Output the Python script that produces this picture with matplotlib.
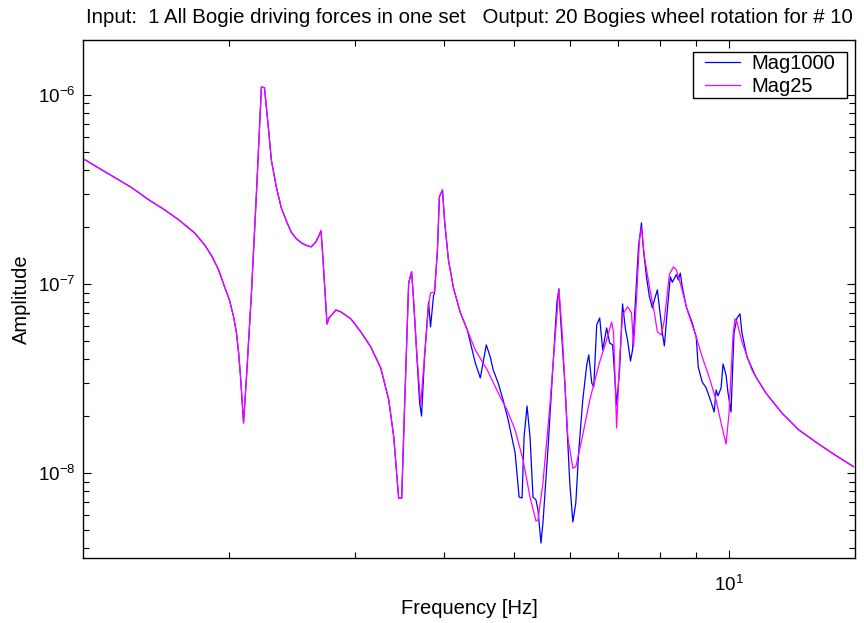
import matplotlib
matplotlib.use("Agg")
import matplotlib.pyplot as plt
from matplotlib.ticker import NullFormatter, LogLocator
from matplotlib.patches import Rectangle

plt.rcParams["font.family"] = ["Liberation Sans", "DejaVu Sans"]
plt.rcParams["mathtext.fontset"] = "custom"
plt.rcParams["mathtext.rm"] = "Liberation Sans"
plt.rcParams["mathtext.default"] = "regular"
plt.rcParams["axes.unicode_minus"] = False

# common part of both curves (identical below ~3.7 Hz)
freq_common = [1.259, 1.321, 1.387, 1.464, 1.546, 1.627, 1.702, 1.791, 1.849, 1.891,
               1.934, 1.972, 2.003, 2.030, 2.049, 2.063, 2.076, 2.096, 2.116, 2.150,
               2.185, 2.220, 2.242, 2.270, 2.292, 2.329, 2.367, 2.405, 2.443, 2.483,
               2.523, 2.564, 2.606, 2.647, 2.690, 2.707, 2.742, 2.760, 2.822, 2.868,
               2.961, 3.058, 3.157, 3.260, 3.345, 3.399, 3.453, 3.487, 3.521, 3.566,
               3.600, 3.623, 3.658]
amp_common = [4.53e-7, 4.06e-7, 3.64e-7, 3.22e-7, 2.78e-7, 2.46e-7, 2.18e-7, 1.86e-7, 1.61e-7, 1.41e-7,
              1.19e-7, 9.64e-8, 8.23e-8, 6.69e-8, 5.50e-8, 4.31e-8, 3.22e-8, 1.84e-8, 3.22e-8, 8.96e-8,
              3.03e-7, 1.10e-6, 1.09e-6, 6.77e-7, 4.53e-7, 3.26e-7, 2.52e-7, 2.16e-7, 1.88e-7, 1.74e-7,
              1.65e-7, 1.60e-7, 1.57e-7, 1.67e-7, 1.91e-7, 1.34e-7, 6.14e-8, 6.61e-8, 7.28e-8, 7.11e-8,
              6.53e-8, 5.57e-8, 4.64e-8, 3.59e-8, 2.43e-8, 1.55e-8, 7.37e-9, 7.37e-9, 2.35e-8, 1.01e-7,
              1.16e-7, 8.23e-8, 4.47e-8]

# Mag1000 (blue) middle section
freq_1000 = [3.694, 3.717, 3.753, 3.802, 3.826, 3.863, 3.876, 3.912, 3.937, 3.976,
             4.002, 4.053, 4.119, 4.212, 4.307, 4.419, 4.491, 4.578, 4.637, 4.681,
             4.757, 4.833, 4.912, 5.023, 5.088, 5.137, 5.170, 5.220, 5.270, 5.321,
             5.372, 5.407, 5.459, 5.494, 5.582, 5.673, 5.746, 5.783, 5.820, 5.895,
             5.990, 6.049, 6.107, 6.166, 6.245, 6.326, 6.367, 6.429, 6.470, 6.532,
             6.595, 6.659, 6.744, 6.810, 6.875, 6.964, 7.031, 7.098, 7.167, 7.213,
             7.282, 7.330, 7.400, 7.472, 7.544, 7.593, 7.666, 7.740, 7.814, 7.864,
             7.940, 7.991, 8.069, 8.121, 8.199, 8.278, 8.332, 8.440, 8.494, 8.548,
             8.603, 8.714, 8.798, 8.883, 8.998, 9.056, 9.172, 9.290, 9.440, 9.532,
             9.592, 9.654, 9.747, 9.809, 9.904, 9.968, 10.064, 10.161, 10.260, 10.359,
             10.425, 10.593]
amp_1000 = [2.35e-8, 2.00e-8, 4.11e-8, 8.03e-8, 5.92e-8, 8.64e-8, 8.96e-8, 1.51e-7, 2.89e-7, 3.14e-7,
            2.18e-7, 1.34e-7, 9.52e-8, 7.03e-8, 5.71e-8, 3.82e-8, 3.18e-8, 4.76e-8, 4.11e-8, 3.51e-8,
            2.99e-8, 2.43e-8, 1.91e-8, 1.28e-8, 7.46e-9, 7.37e-9, 1.55e-8, 2.26e-8, 1.55e-8, 7.46e-9,
            7.20e-9, 6.37e-9, 4.26e-9, 5.44e-9, 1.32e-8, 3.64e-8, 7.93e-8, 9.41e-8, 6.22e-8, 2.99e-8,
            8.85e-9, 5.50e-9, 6.94e-9, 1.32e-8, 2.43e-8, 3.73e-8, 4.21e-8, 2.99e-8, 2.85e-8, 6.07e-8,
            6.61e-8, 4.47e-8, 5.85e-8, 4.87e-8, 4.76e-8, 2.29e-8, 3.51e-8, 7.84e-8, 5.71e-8, 5.06e-8,
            3.91e-8, 4.47e-8, 8.23e-8, 1.57e-7, 2.10e-7, 1.51e-7, 1.09e-7, 8.54e-8, 7.46e-8, 8.23e-8,
            9.30e-8, 7.56e-8, 5.50e-8, 4.70e-8, 7.28e-8, 1.09e-7, 1.02e-7, 1.12e-7, 1.05e-7, 1.14e-7,
            9.64e-8, 7.56e-8, 6.86e-8, 6.22e-8, 5.24e-8, 3.64e-8, 3.03e-8, 2.82e-8, 2.37e-8, 2.10e-8,
            2.75e-8, 2.56e-8, 2.82e-8, 3.77e-8, 3.30e-8, 2.65e-8, 2.10e-8, 5.50e-8, 6.61e-8, 6.94e-8,
            5.50e-8, 4.11e-8]

# Mag25 (magenta) middle section
freq_25 = [3.706, 3.753, 3.802, 3.826, 3.876, 3.912, 3.937, 3.976, 4.002, 4.053,
           4.119, 4.212, 4.307, 4.419, 4.592, 4.772, 4.896, 5.023, 5.154, 5.270,
           5.372, 5.407, 5.494, 5.619, 5.746, 5.783, 5.839, 5.952, 6.049, 6.107,
           6.225, 6.387, 6.595, 6.744, 6.853, 6.897, 6.964, 7.031, 7.098, 7.213,
           7.306, 7.355, 7.424, 7.496, 7.544, 7.617, 7.740, 7.864, 7.940, 8.043,
           8.121, 8.252, 8.360, 8.440, 8.575, 8.742, 8.998, 9.172, 9.380, 9.592,
           9.747, 9.904, 10.0, 10.129, 10.194, 10.260, 10.425, 10.764]
amp_25 = [2.29e-8, 4.11e-8, 7.74e-8, 8.96e-8, 9.07e-8, 1.51e-7, 2.89e-7, 3.14e-7, 2.18e-7, 1.34e-7,
          9.52e-8, 7.03e-8, 5.71e-8, 4.47e-8, 3.51e-8, 2.59e-8, 2.15e-8, 1.69e-8, 1.17e-8, 7.46e-9,
          5.57e-9, 5.64e-9, 8.85e-9, 2.29e-8, 6.86e-8, 9.41e-8, 5.85e-8, 1.55e-8, 1.06e-8, 1.08e-8,
          1.50e-8, 2.43e-8, 3.87e-8, 5.06e-8, 6.29e-8, 5.50e-8, 1.73e-8, 3.96e-8, 6.86e-8, 7.56e-8,
          7.03e-8, 4.64e-8, 8.23e-8, 1.71e-7, 1.98e-7, 1.39e-7, 9.64e-8, 7.03e-8, 5.57e-8, 5.37e-8,
          6.45e-8, 1.12e-7, 1.23e-7, 1.19e-7, 9.64e-8, 7.28e-8, 5.24e-8, 4.11e-8, 3.22e-8, 2.43e-8,
          1.84e-8, 1.42e-8, 2.08e-8, 5.37e-8, 6.53e-8, 6.29e-8, 4.93e-8, 3.51e-8]

# common tail above ~10.9 Hz
freq_tail = [10.903, 11.258, 11.850, 12.515, 13.213, 13.907, 14.926]
amp_tail = [3.22e-8, 2.65e-8, 2.08e-8, 1.69e-8, 1.46e-8, 1.28e-8, 1.08e-8]

title_text = ("Input:  1 All Bogie driving forces in one set   "
              "Output: 20 Bogies wheel rotation for # 10")

fig = plt.figure(figsize=(8.64, 6.23), dpi=100)
ax = fig.add_axes([0.096, 0.1043, 0.8936, 0.8315])

ax.loglog(freq_common + freq_1000 + freq_tail, amp_common + amp_1000 + amp_tail,
          color=(0, 0, 1), linewidth=0.9, label="Mag1000")
ax.loglog(freq_common + freq_25 + freq_tail, amp_common + amp_25 + amp_tail,
          color=(1, 0, 1), linewidth=0.9, label="Mag25")

ax.set_xlim(1.25, 15)
ax.set_ylim(3.55e-9, 1.95e-6)

ax.xaxis.set_minor_locator(LogLocator(base=10, subs=range(2, 10)))
ax.xaxis.set_minor_formatter(NullFormatter())
ax.yaxis.set_minor_formatter(NullFormatter())

ax.tick_params(which="both", direction="in", top=True, right=True, labelsize=13.5)
ax.tick_params(which="major", length=6, width=0.8)
ax.tick_params(which="minor", length=4, width=0.8)
ax.tick_params(axis="x", pad=12.5)
ax.tick_params(axis="y", pad=5.5)
for s in ax.spines.values():
    s.set_linewidth(1.0)

ax.set_title(title_text, fontsize=14.7, pad=12)
ax.set_xlabel("Frequency [Hz]", fontsize=14.5, labelpad=2.5)
ax.set_ylabel("Amplitude", fontsize=14.5, labelpad=5)

# MATLAB-like legend: unframed legend plus a box with extra side padding
leg = ax.legend(loc="upper right", bbox_to_anchor=(0.974, 0.973), borderaxespad=0,
                fontsize=14.5, frameon=False, handlelength=1.75, handletextpad=0.55,
                labelspacing=0.22, borderpad=0)
leg.set_zorder(6)
fig.canvas.draw()
bb = leg.get_window_extent()
box = Rectangle((bb.x0 - 12, bb.y0 - 2), bb.width + 24, bb.height + 4, transform=None,
                facecolor="white", edgecolor="black", linewidth=1.0, zorder=5.5,
                clip_on=False)
ax.add_patch(box)

fig.savefig("out.png", dpi=100)
